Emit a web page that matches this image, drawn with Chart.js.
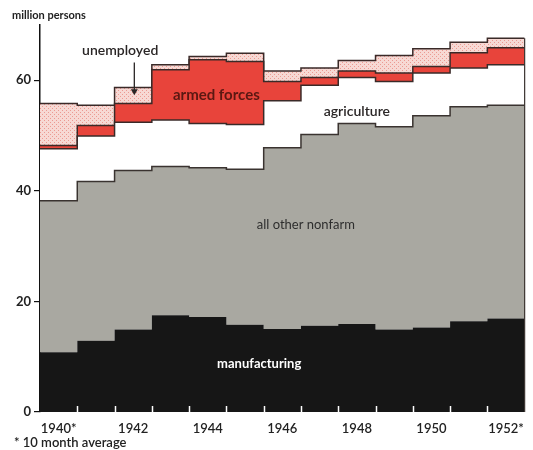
<!DOCTYPE html>
<html>
<head>
<meta charset="utf-8">
<script src="https://cdn.jsdelivr.net/npm/chart.js@4.4.1/dist/chart.umd.min.js"></script>
<style>
  html, body { margin: 0; padding: 0; background: #fff; }
  #wrap { width: 533px; height: 450px; }
</style>
</head>
<body>
<div id="wrap"><canvas id="laborChart" width="533" height="450"></canvas></div>
<script>
// Années et séries (millions de personnes)
const years = [1940, 1941, 1942, 1943, 1944, 1945, 1946, 1947, 1948, 1949, 1950, 1951, 1952];
const manufacturing = [10.8, 12.9, 14.9, 17.5, 17.2, 15.8, 15.0, 15.6, 15.9, 14.9, 15.3, 16.4, 16.9];
const otherNonfarm = [27.4, 28.8, 28.8, 26.9, 27.0, 28.1, 32.8, 34.6, 36.3, 36.7, 38.3, 38.8, 38.6];
const agriculture = [9.4, 8.2, 8.7, 8.4, 8.0, 8.1, 8.5, 8.9, 8.3, 8.2, 7.7, 7.0, 7.3];
const armedForces = [0.6, 1.9, 3.4, 9.1, 11.5, 11.4, 3.5, 1.4, 1.2, 1.5, 1.2, 2.8, 3.1];
const unemployed = [7.6, 3.7, 2.9, 0.9, 0.6, 1.5, 1.9, 1.7, 1.9, 3.2, 3.2, 1.9, 1.7];
const yTicks = [0, 20, 40, 60];
const labeledYears = [1940, 1942, 1944, 1946, 1948, 1950, 1952];
const starredYears = [1940, 1952];

const FONT = "Lato, 'DejaVu Sans', sans-serif";

// Cumul des couches
const layers = [manufacturing, otherNonfarm, agriculture, armedForces, unemployed];
const tops = [];
layers.forEach((serie, k) => {
    tops.push(serie.map((v, i) => (k === 0 ? 0 : tops[k - 1][i]) + v));
});

// Points en escalier : un point au début de chaque année, plus la fin de la dernière
function toSteps(values) {
    const pts = values.map((v, i) => ({ x: years[i] - 0.5, y: v }));
    pts.push({ x: years[years.length - 1] + 0.5, y: values[values.length - 1] });
    return pts;
}

// Motif pointillé pour les chômeurs
function makeDots() {
    const c = document.createElement('canvas');
    c.width = 4; c.height = 4;
    const g = c.getContext('2d');
    g.fillStyle = '#f7d9d4';
    g.fillRect(0, 0, 4, 4);
    g.fillStyle = '#ec9a92';
    g.fillRect(0, 0, 1, 1);
    g.fillRect(2, 2, 1, 1);
    return g.createPattern(c, 'repeat');
}
const ctx = document.getElementById('laborChart').getContext('2d');
const dots = makeDots();

const fills = ['#161616', '#a9a8a1', '#ffffff', '#e8443b', dots];
const borders = ['#161616', '#3a3330', '#3a2a28', '#3a2a28', '#3a2a28'];

// Textes et repères dessinés dans la zone du graphique
const decor = {
    id: 'decor',
    afterDatasetsDraw(chart) {
        const c = chart.ctx;
        const x = chart.scales.x, y = chart.scales.y;
        const area = chart.chartArea;
        c.save();

        // bord droit
        c.strokeStyle = '#3a3330';
        c.lineWidth = 1.2;
        c.beginPath();
        c.moveTo(x.getPixelForValue(1952.5), y.getPixelForValue(0));
        c.lineTo(x.getPixelForValue(1952.5), y.getPixelForValue(tops[4][12]));
        c.stroke();

        // petits repères blancs entre les années
        c.strokeStyle = '#ffffff';
        c.lineWidth = 1.5;
        years.slice(0, -1).forEach(yr => {
            const px = Math.round(x.getPixelForValue(yr + 0.5)) + 0.5;
            c.beginPath();
            c.moveTo(px, area.bottom);
            c.lineTo(px, area.bottom - 6);
            c.stroke();
        });

        c.textAlign = 'center';
        c.textBaseline = 'middle';
        function label(txt, xv, yv, font, color) {
            c.font = font;
            c.fillStyle = color;
            c.fillText(txt, x.getPixelForValue(xv), y.getPixelForValue(yv));
        }
        label('unemployed', 1941.65, 65.3, '600 14px ' + FONT, '#2a2626');
        label('armed forces', 1944.23, 57.3, 'bold 15px ' + FONT, '#5a1812');
        label('agriculture', 1948.0, 54.4, '600 14px ' + FONT, '#2a2626');
        label('all other nonfarm', 1946.63, 33.8, '13px ' + FONT, '#2e2e2e');
        label('manufacturing', 1945.38, 8.7, 'bold 13px ' + FONT, '#ffffff');

        // flèche
        const ax = x.getPixelForValue(1942.03);
        const ay1 = y.getPixelForValue(63.2), ay2 = y.getPixelForValue(57.3);
        c.strokeStyle = '#2a2626';
        c.fillStyle = '#2a2626';
        c.lineWidth = 1.3;
        c.beginPath();
        c.moveTo(ax, ay1);
        c.lineTo(ax, ay2 - 4);
        c.stroke();
        c.beginPath();
        c.moveTo(ax - 3.5, ay2 - 6);
        c.lineTo(ax + 3.5, ay2 - 6);
        c.lineTo(ax, ay2);
        c.closePath();
        c.fill();

        // titre de l'axe et note
        c.textAlign = 'left';
        c.textBaseline = 'alphabetic';
        c.fillStyle = '#222';
        c.font = 'bold 11px ' + FONT;
        c.fillText('million persons', 12, 19);
        c.font = '600 13px ' + FONT;
        c.fillText('* 10 month average', 14, 447);
        c.restore();
    }
};

const laborChart = new Chart(ctx, {
    type: 'line',
    data: {
        datasets: tops.map((t, k) => ({
            data: toSteps(t),
            stepped: 'before',
            backgroundColor: fills[k],
            borderColor: borders[k],
            borderWidth: k === 0 ? 0 : 1.5,
            pointRadius: 0,
            fill: k === 0 ? 'origin' : '-1'
        }))
    },
    options: {
        responsive: false,
        animation: false,
        layout: { padding: { top: 25, right: 4, left: 0, bottom: 0 } },
        plugins: {
            legend: { display: false },
            tooltip: { enabled: false }
        },
        scales: {
            x: {
                type: 'linear',
                min: 1939.5,
                max: 1952.5,
                afterBuildTicks: scale => { scale.ticks = years.map(v => ({ value: v })); },
                afterFit: scale => { scale.height = 38; },
                border: { display: false },
                grid: { display: false, drawTicks: false },
                ticks: {
                    autoSkip: false,
                    maxRotation: 0,
                    padding: 9,
                    color: '#222',
                    font: { family: FONT, size: 13, weight: '600' },
                    callback: v => labeledYears.includes(v) ? (starredYears.includes(v) ? v + '*' : String(v)) : ''
                }
            },
            y: {
                min: 0,
                max: 70,
                afterBuildTicks: scale => { scale.ticks = yTicks.map(v => ({ value: v })); },
                afterFit: scale => { scale.width = 40; },
                border: { display: true, color: '#111', width: 1.5 },
                grid: { drawOnChartArea: false, tickLength: 6, color: '#111', lineWidth: 1.2 },
                ticks: {
                    padding: 3,
                    color: '#222',
                    font: { family: FONT, size: 13, weight: 'bold' }
                }
            }
        }
    },
    plugins: [decor]
});
</script>
</body>
</html>
